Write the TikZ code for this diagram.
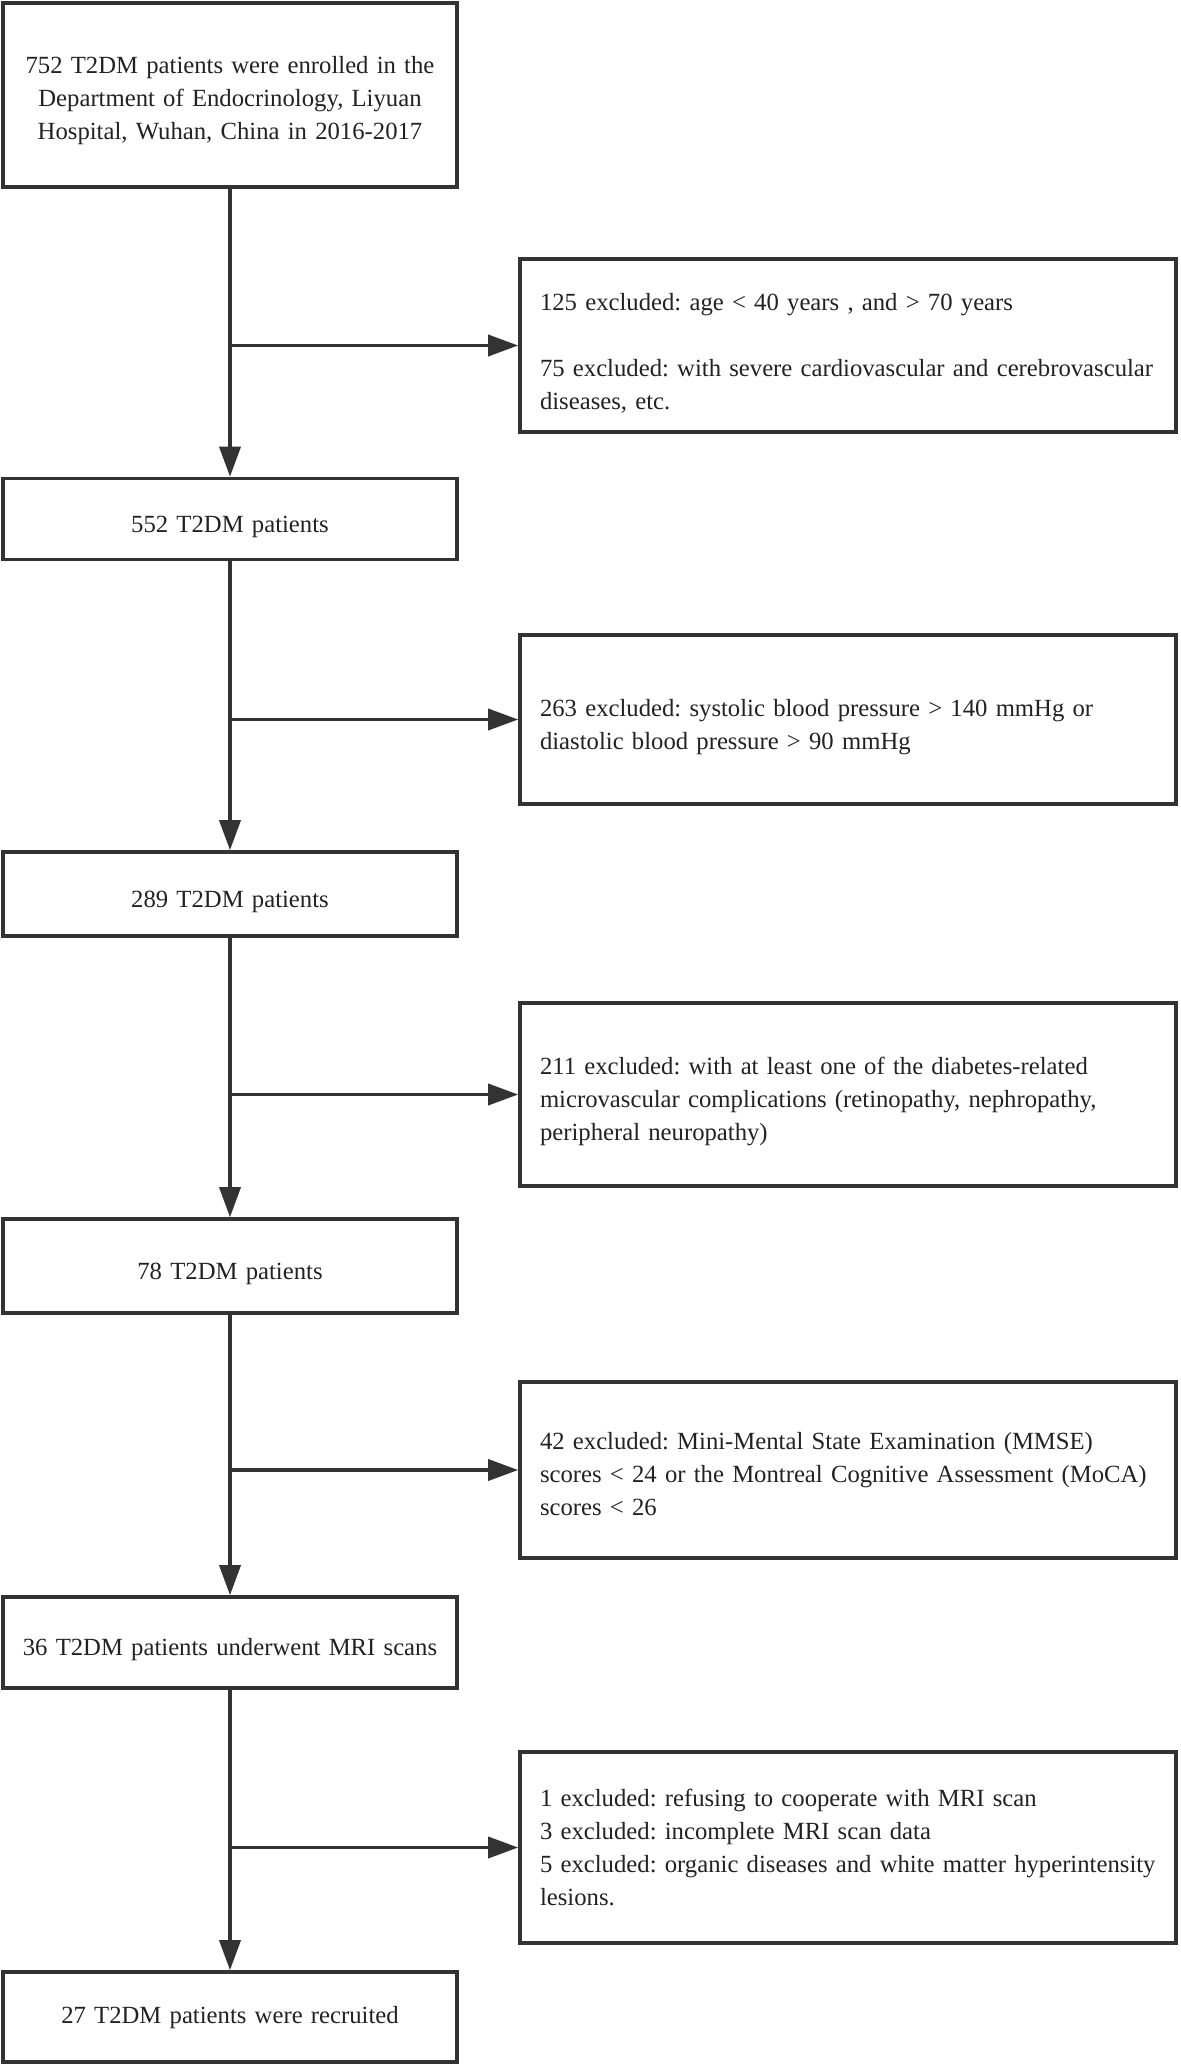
\documentclass[tikz,border=0pt]{standalone}
\usepackage{fontspec}
\setmainfont{Liberation Serif}
\usetikzlibrary{arrows.meta}
\frenchspacing
\definecolor{ln}{HTML}{333333}
\definecolor{tx}{HTML}{222222}
\begin{document}
\begin{tikzpicture}[x=0.5pt,y=-0.5pt,
  strut/.style={execute at begin node={\rule{0pt}{#1}}},
  base/.style={draw=ln, line width=1.8pt, text=tx, font=\fontsize{12.35}{16.5}\selectfont\frenchspacing,
    inner ysep=0pt},
  box/.style={base, inner xsep=6pt, text width=215pt, minimum width=227pt, align=center},
  exbox/.style={base, inner xsep=10pt, text width=308pt, align=left},
  arr/.style={draw=ln, line width=1.8pt, -{Triangle[length=15pt,width=10.5pt]}}]
\useasboundingbox (0,0) rectangle (1181,2064);
\node[box, minimum height=92pt, strut=14.5pt] (b1) at (230,95) {752 T2DM patients were enrolled in the\\Department of Endocrinology, Liyuan\\Hospital, Wuhan, China in 2016-2017};
\node[box, minimum height=40.5pt, strut=16pt] (b2) at (230,519) {552 T2DM patients};
\node[box, minimum height=42pt, strut=16pt] (b3) at (230,894) {289 T2DM patients};
\node[box, minimum height=47pt, strut=16pt] (b4) at (230,1266) {78 T2DM patients};
\node[box, minimum height=45.5pt, strut=16pt] (b5) at (230,1642.5) {36 T2DM patients underwent MRI scans};
\node[box, minimum height=45pt, strut=9.5pt] (b6) at (230,2017) {27 T2DM patients were recruited};
\node[exbox, minimum height=86.5pt, strut=16pt] (e1) at (848,345.5) {\mbox{125 excluded: age < 40 years , and > 70 years}\\[16.5pt]\mbox{75 excluded: with severe cardiovascular and cerebrovascular}\\\mbox{diseases, etc.}};
\node[exbox, minimum height=84.5pt, strut=16pt] (e2) at (848,719.5) {\mbox{263 excluded: systolic blood pressure > 140 mmHg or}\\\mbox{diastolic blood pressure > 90 mmHg}};
\node[exbox, minimum height=91.5pt, strut=16pt] (e3) at (848,1094.5) {\mbox{211 excluded: with at least one of the diabetes-related}\\\mbox{microvascular complications (retinopathy, nephropathy,}\\\mbox{peripheral neuropathy)}};
\node[exbox, minimum height=88pt, strut=13pt] (e4) at (848,1470) {\mbox{42 excluded: Mini-Mental State Examination (MMSE)}\\\mbox{scores < 24 or the Montreal Cognitive Assessment (MoCA)}\\\mbox{scores < 26}};
\node[exbox, minimum height=95.5pt] (e5) at (848,1847.5) {\mbox{1 excluded: refusing to cooperate with MRI scan}\\\mbox{3 excluded: incomplete MRI scan data}\\\mbox{5 excluded: organic diseases and white matter hyperintensity}\\\mbox{lesions.}};
\foreach \a/\b/\e [count=\i] in {b1/b2/e1,b2/b3/e2,b3/b4/e3,b4/b5/e4,b5/b6/e5}{
  \coordinate (j\i) at (\a.south |- \e.west);
  \draw[arr] (\a.south) -- (\b.north);
  \draw[arr] (j\i) -- (\e.west);
}
\end{tikzpicture}
\end{document}
